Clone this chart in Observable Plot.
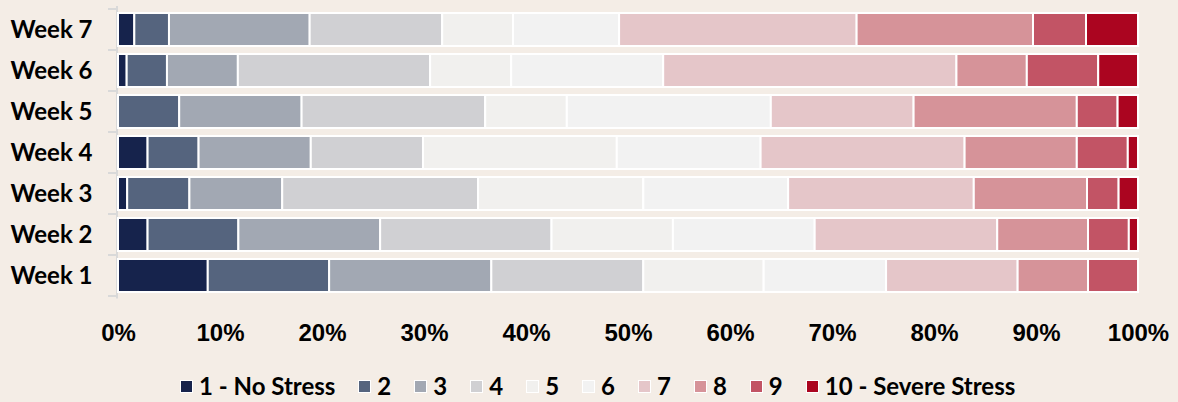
<!DOCTYPE html>
<html>
<head>
<meta charset="utf-8">
<script src="https://cdn.jsdelivr.net/npm/d3@7"></script>
<script src="https://cdn.jsdelivr.net/npm/@observablehq/plot@0.6"></script>
<style>
  html, body { margin: 0; padding: 0; background: #f4ede6; }
  #chart { width: 1178px; }
  #legend { display: flex; align-items: center; margin-left: 180px; margin-top: 13px; font-family: Lato, "Open Sans", sans-serif; font-weight: 700; font-size: 24px; color: #000; line-height: 30px; }
  .item { display: flex; align-items: center; margin-right: 23px; }
  .sw { width: 11px; height: 11px; border: 1.5px solid #fff; margin-right: 6px; }
</style>
</head>
<body>
<div id="chart"></div>
<script>
// ---- data (percent of respondents per stress level) ----
const weeks = ["Week 7", "Week 6", "Week 5", "Week 4", "Week 3", "Week 2", "Week 1"];
const levels = ["1 - No Stress", "2", "3", "4", "5", "6", "7", "8", "9", "10 - Severe Stress"];
const colors = ["#16234c", "#55647e", "#a2a8b3", "#d0d0d3", "#f1f0ee", "#f2f2f2", "#e5c6c9", "#d69399", "#c25465", "#ab0520"];
const week1 = [8.8, 11.9, 15.9, 14.9, 11.8, 12.0, 12.9, 6.9, 4.9, 0];
const week2 = [2.9, 8.9, 13.9, 16.8, 11.9, 13.9, 17.9, 8.9, 4.0, 0.9];
const week3 = [0.9, 6.1, 9.1, 19.2, 16.2, 14.2, 18.2, 11.1, 3.1, 1.9];
const week4 = [2.9, 5.0, 11.0, 11.0, 19.0, 14.1, 20.0, 11.0, 5.0, 1.0];
const week5 = [0, 6, 12, 18, 8, 20, 14, 16, 4, 2];
const week6 = [0.85, 3.95, 6.95, 18.85, 7.95, 14.9, 28.75, 6.9, 7.0, 3.9];
const week7 = [1.6, 3.4, 13.8, 13.0, 6.95, 10.4, 23.3, 17.3, 5.2, 5.1];
const xTicks = [0, 0.1, 0.2, 0.3, 0.4, 0.5, 0.6, 0.7, 0.8, 0.9, 1];

const series = {"Week 1": week1, "Week 2": week2, "Week 3": week3, "Week 4": week4, "Week 5": week5, "Week 6": week6, "Week 7": week7};
const rows = [];
for (const w of weeks) series[w].forEach((v, i) => rows.push({week: w, level: levels[i], value: v}));

const axisColor = "#d9d9d9";

function bandTicks(index, scales, values, dimensions) {
  const y = scales.y;
  const step = y.step(), bw = y.bandwidth();
  const ml = dimensions.marginLeft;
  const g = d3.create("svg:g").attr("stroke", axisColor).attr("stroke-width", 2);
  const ys = weeks.map(w => y(w) + bw / 2 - step / 2);
  ys.push(y(weeks[weeks.length - 1]) + bw / 2 + step / 2);
  for (const yy of ys) g.append("line").attr("x1", ml - 10).attr("x2", ml - 1).attr("y1", yy).attr("y2", yy);
  return g.node();
}

const chart = Plot.plot({
  width: 1178,
  height: 358,
  marginLeft: 118,
  marginRight: 40,
  marginTop: 6,
  marginBottom: 59.4,
  style: {background: "transparent", overflow: "visible"},
  x: {domain: [0, 1]},
  y: {domain: weeks, paddingInner: 0.186, paddingOuter: 0.093},
  color: {domain: levels, range: colors},
  marks: [
    Plot.ruleX([0], {stroke: axisColor, strokeWidth: 2, dx: -1.5}),
    bandTicks,
    Plot.barX(rows, Plot.stackX({y: "week", x: "value", fill: "level", offset: "normalize", stroke: "#fff", strokeWidth: 2})),
    Plot.axisX({ticks: xTicks, tickFormat: d3.format(".0%"), tickSize: 0, tickPadding: 25, label: null,
      fontSize: 24, fontWeight: "bold", fontFamily: "'Liberation Sans', Arial, sans-serif", fill: "#000"}),
    Plot.axisY({tickSize: 0, tickPadding: 108, textAnchor: "start", label: null,
      fontSize: 24, fontWeight: "bold", fontFamily: "Lato, 'Open Sans', sans-serif", fill: "#000"})
  ]
});
document.getElementById("chart").appendChild(chart);

const legend = document.createElement("div");
legend.id = "legend";
levels.forEach((l, i) => {
  const item = document.createElement("div");
  item.className = "item";
  const sw = document.createElement("span");
  sw.className = "sw";
  sw.style.background = colors[i];
  const t = document.createElement("span");
  t.textContent = l;
  item.appendChild(sw);
  item.appendChild(t);
  legend.appendChild(item);
});
document.body.appendChild(legend);
</script>
</body>
</html>
